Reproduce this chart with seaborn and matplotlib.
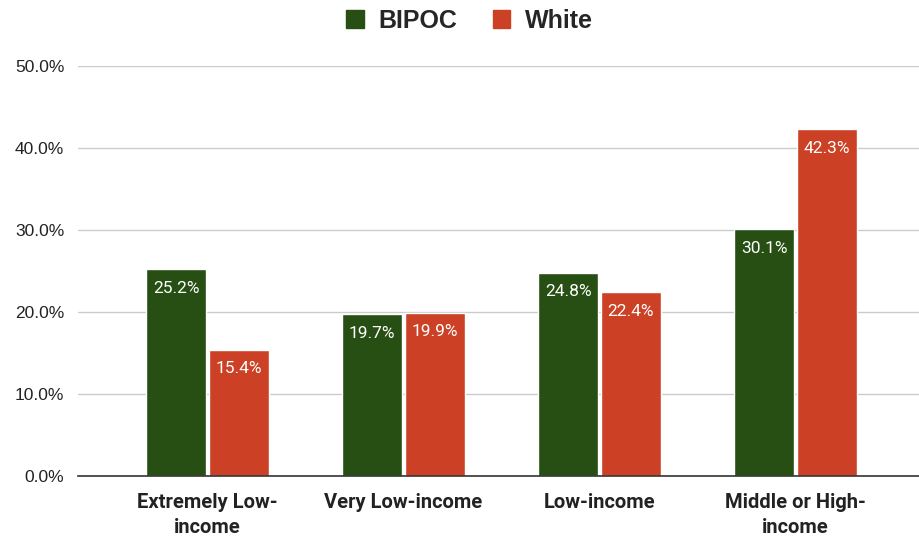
import matplotlib
matplotlib.use('Agg')
import matplotlib.pyplot as plt
import pandas as pd
import seaborn as sns

# Data
categories = ['Extremely Low-\nincome', 'Very Low-income', 'Low-income', 'Middle or High-\nincome']
bipoc = [25.2, 19.7, 24.8, 30.1]
white = [15.4, 19.9, 22.4, 42.3]
groups = ['BIPOC', 'White']

df = pd.DataFrame({
    'category': categories * 2,
    'group': ['BIPOC'] * 4 + ['White'] * 4,
    'value': bipoc + white,
})

sns.set_style('white')
plt.rcParams['font.family'] = ['Liberation Sans', 'DejaVu Sans']

colors = {'BIPOC': '#274e13', 'White': '#cc4125'}

fig = plt.figure(figsize=(9.19, 5.4), dpi=100)
ax = fig.add_axes([0.085, 0.1185, 0.915, 0.7595])

sns.barplot(data=df, x='category', y='value', hue='group', palette=colors,
            order=categories, hue_order=groups, width=0.64, gap=0.05,
            saturation=1, ax=ax)

ax.set_ylim(0, 50)
ax.set_xlim(-0.66, 3.63)
ax.set_yticks([0, 10, 20, 30, 40, 50])
ax.set_yticklabels([f'{v:.1f}%' for v in [0, 10, 20, 30, 40, 50]],
                   fontsize=12.5, color='#222222')
ax.yaxis.grid(True, color='#cccccc', linewidth=1)
ax.set_axisbelow(True)
for s in ['top', 'right', 'left']:
    ax.spines[s].set_visible(False)
ax.spines['bottom'].set_color('#333333')
ax.spines['bottom'].set_linewidth(1.2)
ax.tick_params(axis='y', length=0, pad=10)
ax.tick_params(axis='x', length=0, pad=12)
ax.set_xlabel('')
ax.set_ylabel('')
for lbl in ax.get_xticklabels():
    lbl.set_fontfamily(['Roboto', 'DejaVu Sans'])
    lbl.set_fontweight('bold')
    lbl.set_fontsize(14.5)
    lbl.set_color('#222222')
    lbl.set_linespacing(1.4)

# value labels inside the top of each bar
for p in ax.patches:
    h = p.get_height()
    if h <= 0:
        continue
    ax.text(p.get_x() + p.get_width() / 2, h - 1.4, f'{h:.1f}%',
            ha='center', va='top', color='white', fontsize=12.5,
            fontfamily=['Roboto', 'DejaVu Sans'])

ax.legend_.remove()
handles = [plt.Rectangle((0, 0), 1, 1, color=colors[g]) for g in groups]
fig.legend(handles, groups, loc='center', bbox_to_anchor=(0.511, 0.962), ncol=2,
           frameon=False, handlelength=0.7, handleheight=0.7, handletextpad=0.6,
           columnspacing=1.4, prop={'weight': 'bold', 'size': 18})

fig.savefig('out.png', dpi=100)
